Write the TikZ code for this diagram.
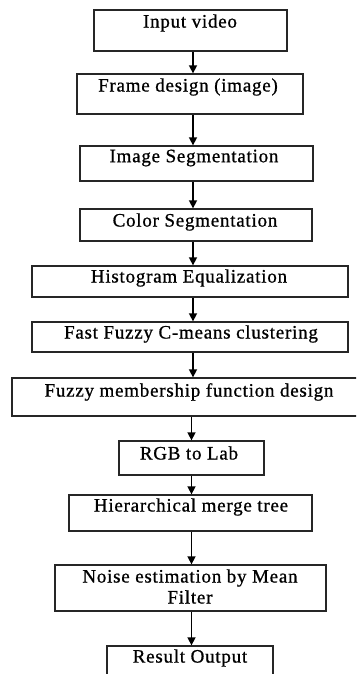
\documentclass[tikz,border=0pt]{standalone}
\usepackage{fontspec}
\setmainfont[LetterSpace=4,FakeBold=0.8]{Liberation Serif}
\usetikzlibrary{arrows.meta}
\begin{document}
\begin{tikzpicture}[x=1pt,y=-1pt,
  box/.style={draw=black!85,line width=1.3pt,rectangle,inner sep=0pt},
  txt/.style={font=\fontsize{19}{22}\selectfont,inner sep=0pt,align=center},
  arr/.style={draw=black,line width=1.5pt,-{Triangle[length=8pt,width=8pt]}}]
\useasboundingbox (0,0) rectangle (356,674);
\clip (0,0) rectangle (356,674);
% boxes
\node[box,minimum width=193,minimum height=41] (b1) at (190.5,30.5) {};
\node[box,minimum width=226,minimum height=40] (b2) at (190,94) {};
\node[box,minimum width=233,minimum height=35] (b3) at (196.5,163.5) {};
\node[box,minimum width=232,minimum height=32] (b4) at (196,225) {};
\node[box,minimum width=316,minimum height=31] (b5) at (190,281.5) {};
\node[box,minimum width=316,minimum height=30] (b6) at (190,337) {};
\node[box,minimum width=346,minimum height=38] (b7) at (185,397) {};
\node[box,minimum width=145,minimum height=34] (b8) at (191.5,458) {};
\node[box,minimum width=243,minimum height=36] (b9) at (190.5,513) {};
\node[box,minimum width=271,minimum height=46] (b10) at (190.5,588) {};
\node[box,minimum width=166,minimum height=50] (b11) at (190,671) {};
% texts
\node[txt] (t1) at (190,23) {Input video};
\node[txt] (t2) at (188,87) {Frame design (image)};
\node[txt] (t3) at (194,158) {Image Segmentation};
\node[txt] (t4) at (195,222) {Color Segmentation};
\node[txt] (t5) at (189,278) {Histogram Equalization};
\node[txt] (t6) at (191,334) {Fast Fuzzy C-means clustering};
\node[txt] (t7) at (189,392) {Fuzzy membership function design};
\node[txt] (t8) at (189,453) {RGB to Lab};
\node[txt] (t9) at (191,507) {Hierarchical merge tree};
\node[txt] (t10a) at (190,578) {Noise estimation by Mean};
\node[txt] (t10b) at (190,597) {Filter};
\node[txt] (t11) at (190,658) {Result Output};
% arrow x positions
\coordinate (xa) at (193,0);
\coordinate (xb) at (191.5,0);
\draw[arr] (b1.south -| xa) -- (b2.north -| xa);
\draw[arr] (b2.south -| xa) -- (b3.north -| xa);
\draw[arr] (b3.south -| xa) -- (b4.north -| xa);
\draw[arr] (b4.south -| xa) -- (b5.north -| xa);
\draw[arr] (b5.south -| xa) -- (b6.north -| xa);
\draw[arr] (b6.south -| xa) -- (b7.north -| xa);
\draw[arr] (b7.south -| xb) -- (b8.north -| xb);
\draw[arr] (b8.south -| xb) -- (b9.north -| xb);
\draw[arr] (b9.south -| xb) -- (b10.north -| xb);
\draw[arr] (b10.south -| xb) -- (b11.north -| xb);
\end{tikzpicture}
\end{document}
